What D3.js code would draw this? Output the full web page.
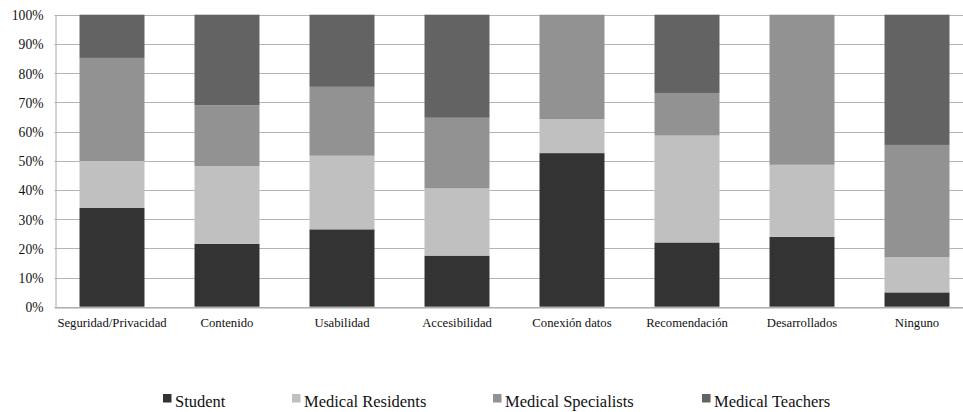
<!DOCTYPE html>
<html>
<head>
<meta charset="utf-8">
<script src="https://cdn.jsdelivr.net/npm/d3@7"></script>
<style>
  html, body { margin: 0; padding: 0; background: #fff; }
  svg { display: block; }
  svg text { font-family: "Liberation Serif", "Times New Roman", "DejaVu Serif", serif !important; fill: #111; }
</style>
</head>
<body>
<svg id="chart" width="963" height="412"></svg>
<script>
// Categories (x axis)
const categories = ["Seguridad/Privacidad", "Contenido", "Usabilidad", "Accesibilidad",
  "Conexión datos", "Recomendación", "Desarrollados", "Ninguno"];

// Series shares in percent, one value per category
const seriesNames = ["Student", "Medical Residents", "Medical Specialists", "Medical Teachers"];
const student     = [33.8, 21.5, 26.5, 17.5, 52.6, 22.0, 23.9, 4.9];
const residents   = [16.1, 26.6, 25.2, 23.0, 11.6, 36.6, 24.7, 12.1];
const specialists = [35.3, 20.9, 23.6, 24.2, 35.8, 14.6, 51.4, 38.4];
const teachers    = [14.8, 31.0, 24.7, 35.3, 0.0, 26.8, 0.0, 44.6];

// Y axis tick labels
const yTicks = [0, 10, 20, 30, 40, 50, 60, 70, 80, 90, 100];

const colors = ["#333333", "#c0c0c0", "#929292", "#636363"];

const rows = categories.map((c, i) => ({
  category: c,
  "Student": student[i],
  "Medical Residents": residents[i],
  "Medical Specialists": specialists[i],
  "Medical Teachers": teachers[i]
}));

const svg = d3.select("#chart");
const plotLeft = 54.5, plotRight = 974.5, plotTop = 14.7, plotBottom = 306.7;
const serif = '"Liberation Serif", "Times New Roman", serif';

const x = d3.scaleBand().domain(categories).range([plotLeft, plotRight]).paddingInner(0.435).paddingOuter(0.2175);
const y = d3.scaleLinear().domain([0, 100]).range([plotBottom, plotTop]);
const color = d3.scaleOrdinal().domain(seriesNames).range(colors);

// Horizontal gridlines
svg.append("g")
  .selectAll("line")
  .data(yTicks)
  .join("line")
  .attr("x1", plotLeft).attr("x2", plotRight)
  .attr("y1", d => Math.round(y(d)) + 0.5).attr("y2", d => Math.round(y(d)) + 0.5)
  .attr("stroke", "#b4b4b4").attr("stroke-width", 1);

// Stacked bars
const stacked = d3.stack().keys(seriesNames)(rows);
svg.append("g")
  .selectAll("g")
  .data(stacked)
  .join("g")
  .attr("fill", d => color(d.key))
  .selectAll("rect")
  .data(d => d)
  .join("rect")
  .attr("x", d => x(d.data.category))
  .attr("width", x.bandwidth())
  .attr("y", d => y(d[1]))
  .attr("height", d => y(d[0]) - y(d[1]));

// Y axis
const yAxis = svg.append("g")
  .attr("transform", `translate(${Math.round(plotLeft) + 0.5},0)`)
  .call(d3.axisLeft(y).tickValues(yTicks).tickFormat(d => d + "%").tickSize(0).tickPadding(12))
  .attr("font-family", serif);
yAxis.select(".domain").attr("stroke", "#a8a8a8");
yAxis.selectAll("text").style("font-size", "13.6px").attr("fill", "#111").attr("dy", "0.36em");

// X axis
const xAxis = svg.append("g")
  .attr("transform", `translate(0,${Math.round(plotBottom) + 0.5})`)
  .call(d3.axisBottom(x).tickSize(0).tickPadding(10))
  .attr("font-family", serif);
xAxis.select(".domain").attr("stroke", "#a8a8a8");
xAxis.selectAll("text").style("font-size", "12.7px").attr("fill", "#111");

// Legend
const legendX = [163, 292, 493, 702];
const legend = svg.append("g")
  .attr("font-family", serif)
  .selectAll("g")
  .data(seriesNames)
  .join("g")
  .attr("transform", (d, i) => `translate(${legendX[i]},394)`);
legend.append("rect")
  .attr("width", 8.5).attr("height", 8.5)
  .attr("fill", d => color(d));
legend.append("text")
  .attr("x", 12).attr("y", 12.5)
  .style("font-size", "16.5px")
  .text(d => d);
</script>
</body>
</html>
